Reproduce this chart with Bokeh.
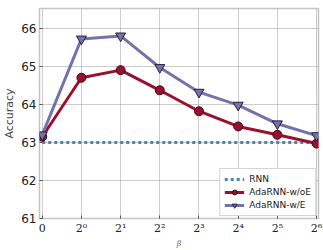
from bokeh.plotting import figure
from bokeh.models import Range1d, FixedTicker, Legend, LegendItem
from bokeh.embed import file_html
from bokeh.resources import INLINE

# beta settings (tick positions) and their labels
x_pos = [0, 1, 2, 3, 4, 5, 6, 7]
x_labels = ["0", "2⁰", "2¹", "2²", "2³", "2⁴", "2⁵", "2⁶"]

rnn = [63.0, 63.0, 63.0, 63.0, 63.0, 63.0, 63.0, 63.0]
ada_woe = [63.15, 64.7, 64.9, 64.37, 63.82, 63.42, 63.2, 62.97]
ada_we = [63.2, 65.72, 65.8, 64.97, 64.32, 63.98, 63.49, 63.18]

p = figure(width=323, height=250, output_backend="svg", toolbar_location=None,
           x_range=Range1d(-0.07, 7.05), y_range=Range1d(61, 66.52),
           min_border_left=31, min_border_right=5, min_border_top=8, min_border_bottom=22)

p.background_fill_color = "white"
p.outline_line_color = "#c4c4c4"
p.outline_line_width = 1.5

for g in (p.xgrid, p.ygrid):
    g.grid_line_color = "#999999"
    g.grid_line_dash = "1 1"
    g.grid_line_width = 1

p.xaxis.ticker = FixedTicker(ticks=x_pos)
p.xaxis.major_label_overrides = {i: s for i, s in zip(x_pos, x_labels)}
p.yaxis.ticker = FixedTicker(ticks=[61, 62, 63, 64, 65, 66])

for ax in (p.xaxis[0], p.yaxis[0]):
    ax.axis_line_color = None
    ax.major_tick_in = 3
    ax.major_tick_out = 0
    ax.major_tick_line_color = "#555555"
    ax.minor_tick_line_color = None
    ax.major_label_text_color = "#222222"

p.xaxis.major_label_text_font = "DejaVu Serif"
p.xaxis.major_label_text_font_size = "11px"
p.xaxis.major_label_standoff = 3
p.yaxis.major_label_text_font = "DejaVu Sans"
p.yaxis.major_label_text_font_size = "12px"
p.yaxis.major_label_standoff = 3

p.yaxis.axis_label = "Accuracy"
p.yaxis.axis_label_text_font = "DejaVu Sans"
p.yaxis.axis_label_text_font_style = "normal"
p.yaxis.axis_label_text_font_size = "11px"
p.yaxis.axis_label_standoff = 2

p.xaxis.axis_label = "β"
p.xaxis.axis_label_text_font = "DejaVu Serif"
p.xaxis.axis_label_text_font_style = "italic"
p.xaxis.axis_label_text_font_size = "8px"
p.xaxis.axis_label_text_color = "#666666"
p.xaxis.axis_label_standoff = 1

# RNN baseline as a dotted line
r_rnn = p.line(x_pos, rnn, line_color="#3f88b0", line_width=3, line_dash="3 3")

woe_color = "#99112f"
we_color = "#7372ad"

r_woe_l = p.line(x_pos, ada_woe, line_color=woe_color, line_width=3)
r_woe_m = p.scatter(x_pos, ada_woe, marker="circle", size=9, fill_color=woe_color,
                    line_color="#3a0a14", line_width=1)

r_we_l = p.line(x_pos, ada_we, line_color=we_color, line_width=3)
r_we_m = p.scatter(x_pos, ada_we, marker="inverted_triangle", size=10, fill_color=we_color,
                   line_color="#222233", line_width=1)

legend = Legend(items=[
    LegendItem(label="RNN", renderers=[r_rnn]),
    LegendItem(label="AdaRNN-w/oE", renderers=[r_woe_l, r_woe_m]),
    LegendItem(label="AdaRNN-w/E", renderers=[r_we_l, r_we_m]),
], location="bottom_right")
legend.label_text_font = "DejaVu Sans"
legend.label_text_font_size = "9px"
legend.label_text_color = "#222222"
legend.label_height = 12
legend.glyph_height = 12
legend.glyph_width = 20
legend.label_standoff = 5
legend.spacing = 1
legend.padding = 4
legend.margin = 2
legend.border_line_color = "#aaaaaa"
legend.background_fill_alpha = 1
p.add_layout(legend)

open("out.html", "w").write(file_html(p, INLINE))
